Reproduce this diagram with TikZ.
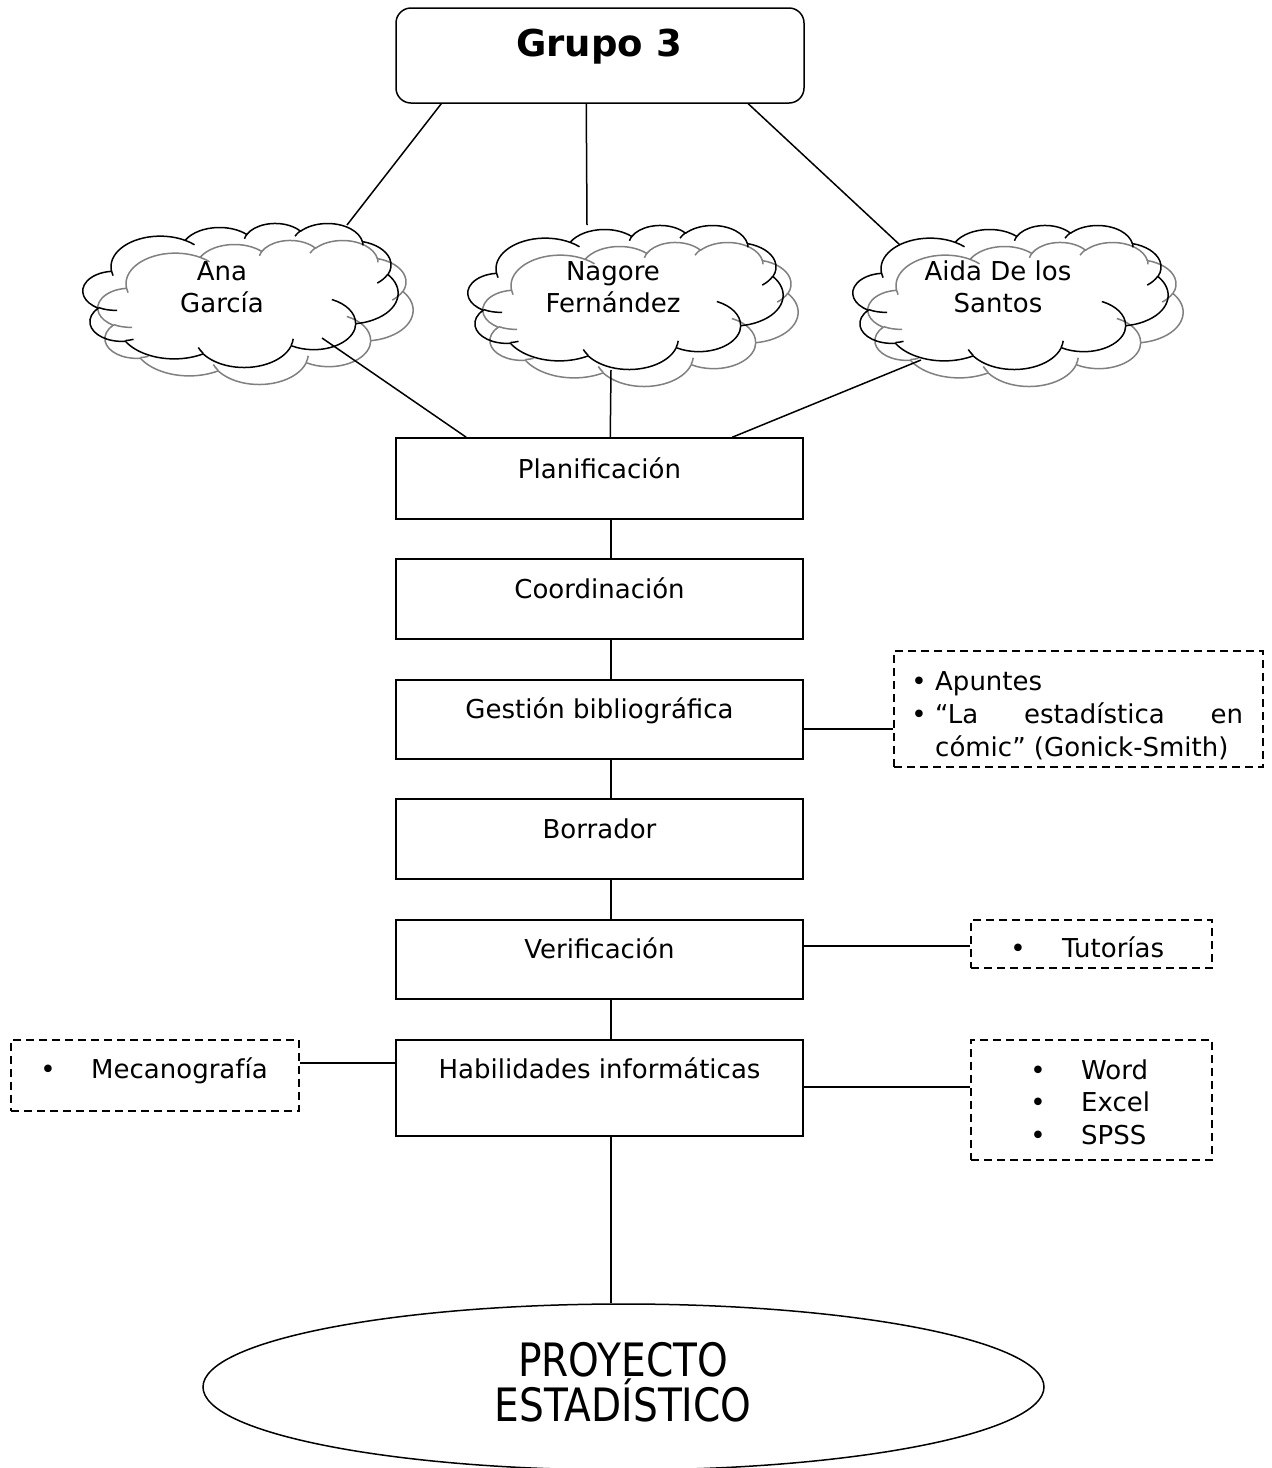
\documentclass[tikz,border=0pt]{standalone}
\usepackage{fontspec}
\setmainfont{DejaVu Sans}
\newfontfamily\condfont[FakeStretch=0.85]{DejaVu Sans}
\usetikzlibrary{shapes.geometric,calc}
\tikzset{
  warc/.style n args={4}{
    start angle={atan2((#1)*sin(#3),(#2)*cos(#3))},
    delta angle={mod(atan2((#1)*sin((#3)+(#4)),(#2)*cos((#3)+(#4)))-atan2((#1)*sin(#3),(#2)*cos(#3))+720,360)},
    x radius=#1, y radius=#2}
}
% Word-style cloud, drawn in a 432 x 432 box
\newcommand\wcloud[2]{%
\begin{scope}[shift={#1}, x=0.7292pt, y=-0.3333pt, line width=1.5pt, draw=#2, line join=round]
\draw (39.00,143.70)
  arc[warc={67.53}{91.90}{-190.4875}{123.7805}]
  arc[warc={53.33}{72.67}{-144.1024}{89.9452}]
  arc[warc={43.65}{59.45}{-145.8079}{99.7230}]
  arc[warc={48.57}{65.95}{-130.9861}{117.2417}]
  arc[warc={53.33}{72.73}{-78.7089}{109.0269}]
  arc[warc={67.75}{92.20}{-46.2673}{130.2690}]
  arc[warc={57.85}{78.67}{0.6250}{114.0333}]
  arc[warc={67.52}{92.15}{22.4516}{115.1726}]
  arc[warc={77.20}{105.43}{66.2426}{75.7110}]
  arc[warc={43.60}{59.18}{-274.9421}{146.7356}]
  arc[warc={43.45}{59.45}{-246.8285}{152.5189}]
  -- cycle;
\draw (46.93,261.77) arc[warc={43.45}{59.45}{86.7420}{26.4295}];
\draw (69.28,348.99) arc[warc={43.60}{59.18}{73.6105}{11.4475}];
\draw (164.78,390.90) arc[warc={67.52}{92.15}{137.6242}{14.0811}];
\draw (288.27,347.51) arc[warc={67.52}{92.15}{6.4533}{15.9984}];
\draw (341.29,229.54) arc[warc={57.85}{78.67}{-70.2924}{70.9174}];
\draw (417.98,153.54) arc[warc={53.33}{72.73}{30.3180}{27.7515}];
\draw (383.24,54.26) arc[warc={48.57}{65.95}{-13.7443}{14.8589}];
\draw (290.78,39.52) arc[warc={48.57}{65.95}{-149.1815}{18.1954}];
\draw (221.41,47.20) arc[warc={43.65}{59.45}{-163.4943}{17.6864}];
\draw (140.00,51.92) arc[warc={67.53}{91.90}{-66.7070}{12.3194}];
\draw (41.27,157.89) arc[warc={67.53}{91.90}{157.6544}{11.8582}];
\end{scope}}
\begin{document}
\begin{tikzpicture}[x=1pt,y=-1pt,
  every node/.style={inner sep=0pt, font=\fontsize{26}{32}\selectfont},
  ln/.style={line width=1.5pt},
  stepbox/.style={draw, line width=1.5pt, rectangle, minimum width=407pt, minimum height=80pt},
  dbox/.style={draw, line width=1.5pt, rectangle, dash pattern=on 8pt off 5pt},
  lbl/.style={anchor=base}]
\useasboundingbox (0,0) rectangle (1272,1468);
\fill[white] (0,0) rectangle (1272,1468);

% top box
\node[draw, line width=1.5pt, rounded corners=15pt, minimum width=408pt, minimum height=95pt] (grupo) at (600,55.5) {};
\node[font=\fontsize{37}{40}\selectfont\bfseries] (grupot) at (599,47) {Grupo 3};

% clouds (grey copy behind, black in front)
\wcloud{(98,240)}{black!50}
\wcloud{(83,223)}{black}
\coordinate (ana) at (240,295);
\node[align=center] (anat) at (222,287) {Ana\\García};
\wcloud{(483,242)}{black!50}
\wcloud{(468,225)}{black}
\coordinate (nag) at (625,295);
\node[align=center] (nagt) at (613,287) {Nagore\\Fernández};
\wcloud{(868,242)}{black!50}
\wcloud{(853,225)}{black}
\coordinate (aida) at (1010,295);
\node[align=center] (aidat) at (998,287) {Aida De los\\Santos};

% main boxes
\node[stepbox, minimum height=81pt] (plan) at (599.5,478.5) {};
\node[stepbox] (coord) at (599.5,599) {};
\node[stepbox, minimum height=79pt] (gest) at (599.5,719.5) {};
\node[stepbox] (borr) at (599.5,839) {};
\node[stepbox, minimum height=79pt] (veri) at (599.5,959.5) {};
\node[stepbox, minimum height=96pt] (habi) at (599.5,1088) {};
\node[lbl] (planl) at (599.5,478) {Planificación};
\node[lbl] (coordl) at (599.5,598) {Coordinación};
\node[lbl] (gestl) at (599.5,718) {Gestión bibliográfica};
\node[lbl] (borrl) at (599.5,838) {Borrador};
\node[lbl] (veril) at (599.5,958) {Verificación};
\node[lbl] (habil) at (599.5,1078) {Habilidades informáticas};

% ellipse
\node[ellipse, draw, line width=1.5pt, minimum width=841pt, minimum height=166pt] (proj) at (623.5,1387) {};
\node[align=center, font=\condfont\fontsize{46}{45}\selectfont] (projt) at (623,1382) {PROYECTO\\ESTADÍSTICO};

% dashed boxes
\node[dbox, minimum width=369pt, minimum height=116pt] (gbib) at (1078.5,709) {};
\node[lbl] (b1) at (919,690) {•};
\node[lbl, anchor=base west] (t1) at (935,690) {Apuntes};
\node[lbl] (b2) at (919,723) {•};
\node[lbl, anchor=base west] (t2) at (935,723) {\makebox[308pt][l]{“La\hfill estadística\hfill en}};
\node[lbl, anchor=base west] (t3) at (935,756) {cómic” (Gonick-Smith)};

\node[dbox, minimum width=241pt, minimum height=48pt] (tut) at (1091.5,944) {};
\node[lbl] (b4) at (1018,957) {•};
\node[lbl, anchor=base west] (t4) at (1062,957) {Tutorías};

\node[dbox, minimum width=241pt, minimum height=120pt] (soft) at (1091.5,1100) {};
\node[lbl] (b5) at (1038,1079) {•};
\node[lbl, anchor=base west] (t5) at (1081,1079) {Word};
\node[lbl] (b6) at (1038,1111) {•};
\node[lbl, anchor=base west] (t6) at (1081,1111) {Excel};
\node[lbl] (b7) at (1038,1144) {•};
\node[lbl, anchor=base west] (t7) at (1081,1144) {SPSS};

\node[dbox, minimum width=288pt, minimum height=71pt] (meca) at (155,1075.5) {};
\node[lbl] (b8) at (48,1078) {•};
\node[lbl, anchor=base west] (t8) at (91,1078) {Mecanografía};

% connectors: group to clouds
\coordinate (anatop) at (347,225);
\coordinate (nagtop) at (587,225);
\coordinate (aidatop) at (900,245);
\draw[ln] ($(grupo.south west)+(46,0)$) -- (anatop);
\draw[ln] ($(grupo.south west)+(191,0)$) -- (nagtop);
\draw[ln] ($(grupo.south west)+(353,0)$) -- (aidatop);
% clouds to planificacion
\coordinate (anabot) at (322,338);
\coordinate (nagbot) at (611,370);
\coordinate (aidabot) at (921,360);
\draw[ln] (anabot) -- ($(plan.north west)+(71,0)$);
\draw[ln] (nagbot) -- ($(plan.north west)+(215,0)$);
\draw[ln] (aidabot) -- ($(plan.north west)+(337,0)$);
% vertical chain
\draw[ln] ($(plan.south)+(11.5,0)$) -- ($(coord.north)+(11.5,0)$);
\draw[ln] ($(coord.south)+(11.5,0)$) -- ($(gest.north)+(11.5,0)$);
\draw[ln] ($(gest.south)+(11.5,0)$) -- ($(borr.north)+(11.5,0)$);
\draw[ln] ($(borr.south)+(11.5,0)$) -- ($(veri.north)+(11.5,0)$);
\draw[ln] ($(veri.south)+(11.5,0)$) -- ($(habi.north)+(11.5,0)$);
\draw[ln] ($(habi.south)+(11.5,0)$) -- ($(proj.north)+(-12.5,0)$);
% side connectors
\draw[ln] ($(gest.east)+(0,9.5)$) -- ($(gbib.west)+(0,20)$);
\draw[ln] ($(veri.east)+(0,-13.5)$) -- ($(tut.west)+(0,2)$);
\draw[ln] ($(habi.east)+(0,-1)$) -- ($(soft.west)+(0,-13)$);
\draw[ln] ($(habi.west)+(0,-25)$) -- ($(meca.east)+(0,-12.5)$);
\end{tikzpicture}
\end{document}
